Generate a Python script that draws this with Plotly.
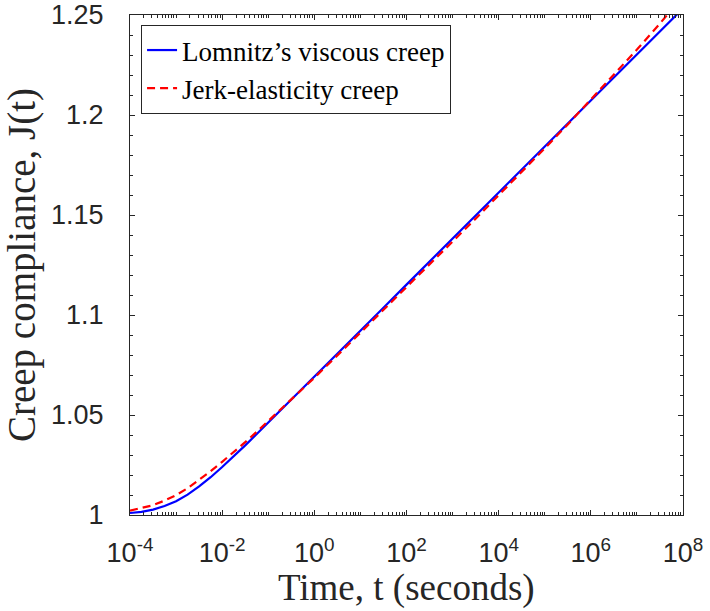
import plotly.graph_objects as go

# time points (log10 of seconds)
log_t = [-4, -3.75, -3.5, -3.25, -3, -2.75, -2.5, -2.25, -2, -1.75, -1.5, -1.25,
         -1, -0.5, 0, 0.5, 1, 1.5, 2, 2.5, 3, 3.5, 4, 4.5, 5, 5.5, 6, 6.5, 7, 7.5, 8]
t = [10 ** k for k in log_t]

# Lomnitz's viscous creep
j_lomnitz = [1.0010, 1.0016, 1.0027, 1.0045, 1.0069, 1.0102, 1.0143, 1.0189, 1.0240,
             1.0293, 1.0348, 1.0405, 1.0462, 1.0576, 1.0691, 1.0806, 1.0921, 1.1036,
             1.1152, 1.1267, 1.1382, 1.1497, 1.1612, 1.1727, 1.1842, 1.1957, 1.2073,
             1.2188, 1.2303, 1.2418, 1.2533]

# Jerk-elasticity creep
j_jerk = [1.0022, 1.0034, 1.0049, 1.0072, 1.0099, 1.0134, 1.0175, 1.0219, 1.0266,
          1.0314, 1.0364, 1.0416, 1.0469, 1.0576, 1.0686, 1.0798, 1.0911, 1.1024,
          1.1139, 1.1253, 1.1367, 1.1482, 1.1598, 1.1715, 1.1833, 1.1953, 1.2076,
          1.2200, 1.2327, 1.2458, 1.2593]

x_tickvals = [1e-4, 1e-2, 1e0, 1e2, 1e4, 1e6, 1e8]
x_ticktext = ['10<sup>-4</sup>', '10<sup>-2</sup>', '10<sup>0</sup>', '10<sup>2</sup>',
              '10<sup>4</sup>', '10<sup>6</sup>', '10<sup>8</sup>']
y_tickvals = [1, 1.05, 1.1, 1.15, 1.2, 1.25]
y_ticktext = ['1', '1.05', '1.1', '1.15', '1.2', '1.25']

serif = 'Liberation Serif, Times New Roman, serif'
sans = 'Liberation Sans, Arial, sans-serif'
axcol = '#262626'

fig = go.Figure()
fig.add_trace(go.Scatter(x=t, y=j_lomnitz, mode='lines', name='Lomnitz’s viscous creep',
                         line=dict(color='#0000FF', width=2.2)))
fig.add_trace(go.Scatter(x=t, y=j_jerk, mode='lines', name='Jerk-elasticity creep',
                         line=dict(color='#FF0000', width=2.2, dash='8px,5px')))

fig.update_layout(
    width=710, height=611,
    margin=dict(l=130, r=27, t=15, b=96),
    font=dict(family=serif, color='black'),
    plot_bgcolor='white', paper_bgcolor='white',
    showlegend=True,
    legend=dict(x=0.02, y=0.98, xanchor='left', yanchor='top',
                bgcolor='white', bordercolor=axcol, borderwidth=1,
                font=dict(family=serif, size=27, color='black'),
                tracegroupgap=0),
    xaxis=dict(
        type='log', range=[-4, 8], automargin=False,
        tickmode='array', tickvals=x_tickvals, ticktext=x_ticktext,
        ticks='inside', ticklen=5, tickcolor=axcol,
        minor=dict(ticks='inside', ticklen=3, tickcolor=axcol, dtick='D1', showgrid=False),
        showline=True, linecolor=axcol, linewidth=1, mirror='ticks',
        showgrid=False, zeroline=False,
        tickfont=dict(family=sans, size=27, color='#262626'),
        ticklabelstandoff=14,
    ),
    yaxis=dict(
        range=[1, 1.25], automargin=False,
        tickmode='array', tickvals=y_tickvals, ticktext=y_ticktext,
        ticks='inside', ticklen=5, tickcolor=axcol,
        minor=dict(ticks='inside', ticklen=3, tickcolor=axcol, dtick=0.01, showgrid=False),
        showline=True, linecolor=axcol, linewidth=1, mirror='ticks',
        showgrid=False, zeroline=False,
        tickfont=dict(family=sans, size=27, color='#262626'),
        ticklabelstandoff=20,
        title=dict(text='Creep compliance, J(t)', font=dict(family=serif, size=39, color='#262626'),
                   standoff=10),
    ),
)

# x-axis title placed as an annotation to match the reference spacing
fig.add_annotation(text='Time, t (seconds)', xref='paper', yref='paper',
                   x=0.5, y=-0.146, xanchor='center', yanchor='middle', showarrow=False,
                   font=dict(family=serif, size=37, color='#262626'))

# the page body has a default 8px margin; drop it so the figure fills the window
fig.write_html('out.html', config={'displayModeBar': False},
               post_script="document.body.style.margin='0px';")
